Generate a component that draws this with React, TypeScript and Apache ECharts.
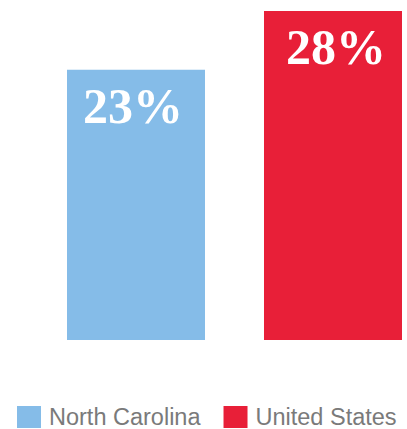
import React, { useEffect, useRef } from "react";
import * as echarts from "echarts";

const categories = ["Share"];
const seriesNames = ["North Carolina", "United States"];
const seriesValues = [23, 28];
const seriesColors = ["#85BCE8", "#E81F38"];
const labelOffsets = [[-3, 0], [3, 0]];

export default function App() {
  const ref = useRef<HTMLDivElement>(null);
  useEffect(() => {
    if (!ref.current) return;
    const chart = echarts.init(ref.current, null, { renderer: "svg" });
    chart.setOption({
      animation: false,
      grid: { left: 67, right: 5, top: 11, bottom: 89 },
      legend: {
        left: 17,
        top: 405,
        padding: 0,
        itemWidth: 24,
        itemHeight: 22,
        itemGap: 23,
        icon: "rect",
        textStyle: {
          fontSize: 23.5,
          lineHeight: 22,
          color: "#7a7a7a",
          fontFamily: "Liberation Sans",
          padding: [0, 0, 0, 3],
        },
        data: seriesNames,
      },
      xAxis: { type: "category", data: categories, show: false },
      yAxis: { type: "value", min: 0, max: 28, show: false },
      series: seriesNames.map((name, i) => ({
        name,
        type: "bar",
        data: [seriesValues[i]],
        barWidth: 138,
        barGap: "42.75%",
        itemStyle: { color: seriesColors[i] },
        label: {
          show: true,
          position: "insideTop",
          distance: 11,
          offset: labelOffsets[i],
          formatter: "{c}%",
          color: "#ffffff",
          fontFamily: "Liberation Serif",
          fontWeight: "bold",
          fontSize: 50,
        },
      })),
    });
    return () => chart.dispose();
  }, []);
  return <div ref={ref} style={{ width: 407, height: 429, position: "absolute", left: 0, top: 0 }} />;
}
